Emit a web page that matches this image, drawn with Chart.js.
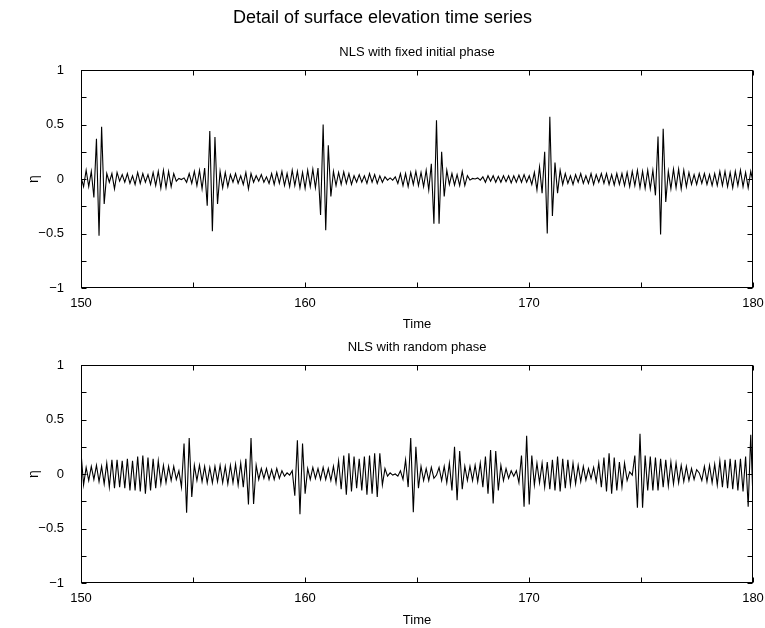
<!DOCTYPE html>
<html><head><meta charset="utf-8">
<script src="https://cdn.jsdelivr.net/npm/chart.js@4.4.1/dist/chart.umd.min.js"></script>
<style>
html,body{margin:0;padding:0;background:#fff;}
#wrap{position:relative;width:765px;height:628px;overflow:hidden;}
canvas{position:absolute;left:0;}
</style></head><body>
<div id="wrap">
<canvas id="c1" width="765" height="334" style="top:0px"></canvas>
<canvas id="c2" width="765" height="294" style="top:334px"></canvas>
</div>
<script>
// ---- data (turning points of the sampled surface elevation) ----
const timeStart = 150;
const timeStep = 0.115;
const fixedPhaseEta = [
0.02,-0.07,0.08,-0.07,0.07,-0.17,0.37,-0.52,0.48,-0.23,
0.05,-0.03,0.05,-0.09,0.06,-0.02,0.04,-0.03,0.05,-0.04,
0.03,-0.05,0.06,-0.04,0.05,-0.03,0.04,-0.05,0.06,-0.06,
0.07,-0.085,0.08,-0.08,0.07,-0.07,0.05,-0.02,0.005,-0.005,
0.01,-0.03,0.05,-0.04,0.07,-0.06,0.08,-0.09,0.1,-0.245,
0.44,-0.48,0.385,-0.23,0.07,-0.08,0.06,-0.07,0.04,-0.03,
0.05,-0.04,0.03,-0.05,0.06,-0.09,0.05,-0.03,0.03,-0.02,
0.04,-0.03,0.02,-0.04,0.05,-0.05,0.06,-0.04,0.07,-0.06,
0.05,-0.07,0.08,-0.06,0.07,-0.08,0.06,-0.085,0.08,-0.07,
0.09,-0.08,0.1,-0.33,0.5,-0.47,0.31,-0.16,0.07,-0.06,
0.06,-0.05,0.065,-0.04,0.05,-0.05,0.03,-0.03,0.04,-0.03,
0.03,-0.04,0.05,-0.03,0.04,-0.04,0.03,-0.03,0.02,-0.01,
0.01,-0.01,0.02,-0.04,0.05,-0.06,0.05,-0.07,0.06,-0.05,
0.07,-0.06,0.06,-0.07,0.08,-0.1,0.14,-0.41,0.54,-0.41,
0.25,-0.16,0.08,-0.05,0.05,-0.055,0.04,-0.06,0.07,-0.06,
0.03,-0.01,0.005,0,0.01,-0.01,0.02,-0.03,0.03,-0.02,
0.03,-0.03,0.025,-0.03,0.03,-0.025,0.03,-0.035,0.03,-0.03,
0.035,-0.03,0.04,-0.03,0.03,-0.05,0.06,-0.1,0.11,-0.13,
0.25,-0.5,0.57,-0.34,0.15,-0.13,0.08,-0.05,0.05,-0.04,
0.03,-0.05,0.04,-0.03,0.05,-0.04,0.03,-0.04,0.05,-0.05,
0.04,-0.03,0.05,-0.04,0.05,-0.05,0.04,-0.055,0.05,-0.05,
0.05,-0.06,0.06,-0.07,0.07,-0.06,0.08,-0.08,0.07,-0.085,
0.08,-0.09,0.08,-0.15,0.39,-0.51,0.46,-0.21,0.07,-0.09,
0.09,-0.08,0.09,-0.09,0.08,-0.07,0.06,-0.05,0.04,-0.05,
0.05,-0.04,0.05,-0.05,0.04,-0.06,0.05,-0.06,0.07,-0.06,
0.07,-0.07,0.06,-0.08,0.07,-0.06,0.08,-0.07,0.06,-0.08,
0.07,-0.04
];
const randomPhaseEta = [
0.2,-0.1,0.06,-0.06,0.07,-0.05,0.08,-0.07,0.07,-0.09,
0.1,-0.12,0.13,-0.13,0.13,-0.12,0.12,-0.13,0.14,-0.15,
0.12,-0.15,0.16,-0.16,0.17,-0.18,0.15,-0.15,0.14,-0.13,
0.12,-0.09,0.08,-0.08,0.07,-0.06,0.07,-0.05,0.03,-0.12,
0.28,-0.355,0.33,-0.21,0.08,-0.06,0.08,-0.07,0.07,-0.08,
0.06,-0.08,0.07,-0.07,0.08,-0.08,0.07,-0.09,0.08,-0.08,
0.09,-0.1,0.1,-0.12,0.14,-0.28,0.33,-0.275,0.08,-0.05,
0.05,-0.04,0.05,-0.05,0.04,-0.05,0.05,-0.04,0.03,-0.02,
0.01,-0.01,0.03,-0.2,0.31,-0.37,0.28,-0.18,0.05,-0.05,
0.06,-0.04,0.05,-0.05,0.06,-0.05,0.05,-0.06,0.07,-0.08,
0.12,-0.14,0.17,-0.19,0.19,-0.16,0.16,-0.13,0.14,-0.15,
0.16,-0.19,0.17,-0.18,0.19,-0.21,0.19,-0.1,0.05,-0.02,
0.01,-0.01,0,-0.02,0.03,-0.05,0.13,-0.12,0.33,-0.35,
0.25,-0.13,0.07,-0.06,0.05,-0.06,0.06,-0.04,-0.01,0.06,
-0.06,0.07,-0.08,0.1,-0.15,0.25,-0.24,0.21,-0.14,0.07,
-0.06,0.07,-0.06,0.08,-0.07,0.1,-0.12,0.16,-0.18,0.22,
-0.27,0.21,-0.15,0.08,-0.06,0.05,-0.04,0.03,-0.02,0.03,
-0.08,0.17,-0.3,0.35,-0.28,0.17,-0.1,0.1,-0.08,0.1,
-0.12,0.11,-0.14,0.13,-0.15,0.16,-0.16,0.14,-0.13,0.13,
-0.1,0.1,-0.09,0.08,-0.07,0.07,-0.055,0.05,-0.04,0.06,
-0.07,0.1,-0.12,0.15,-0.16,0.19,-0.18,0.15,-0.15,0.11,
-0.12,0.1,-0.06,0.02,-0.01,0.17,-0.31,0.37,-0.31,0.17,
-0.15,0.16,-0.15,0.15,-0.15,0.14,-0.12,0.13,-0.11,0.11,
-0.09,0.1,-0.08,0.08,-0.07,0.07,-0.06,0.05,-0.05,0.04,
0.01,-0.06,0.07,-0.07,0.08,-0.08,0.09,-0.1,0.12,-0.12,
0.13,-0.13,0.14,-0.14,0.13,-0.15,0.14,-0.16,0.16,-0.3,
0.36,-0.33
];
const xTickValues = [150, 160, 170, 180];
const xTickLabels = ['150', '160', '170', '180'];
const yTickValues = [-1, -0.5, 0, 0.5, 1];
const yTickLabels = ['\u22121', '\u22120.5', '0', '0.5', '1'];
const mainTitle = 'Detail of surface elevation time series';
const panelTitles = ['NLS with fixed initial phase', 'NLS with random phase'];
const xAxisTitle = 'Time';
const yAxisTitle = '\u03B7';

// ---- rendering ----
const FONT = "'Liberation Sans', Arial, Helvetica, sans-serif";
Chart.defaults.font.family = FONT;
Chart.defaults.color = '#000';

function toPoints(vals) {
  return vals.map((v, i) => ({ x: timeStart + i * timeStep, y: v }));
}

const frameTicks = {
  id: 'frameTicks',
  afterDraw(chart) {
    const { ctx, chartArea: a, scales } = chart;
    const sx = scales.x, sy = scales.y;
    ctx.save();
    ctx.strokeStyle = '#000';
    ctx.lineWidth = 1;
    const L = Math.round(a.left) + 0.5, R = Math.round(a.right) - 0.5;
    const T = Math.round(a.top) + 0.5, B = Math.round(a.bottom) - 0.5;
    ctx.strokeRect(L, T, R - L, B - T);
    ctx.beginPath();
    for (let v = sx.min; v <= sx.max + 1e-9; v += 5) {
      const px = Math.round(sx.getPixelForValue(v)) + 0.5;
      ctx.moveTo(px, B); ctx.lineTo(px, B - 5);
      ctx.moveTo(px, T); ctx.lineTo(px, T + 5);
    }
    for (let v = sy.min; v <= sy.max + 1e-9; v += 0.25) {
      const py = Math.round(sy.getPixelForValue(v)) + 0.5;
      ctx.moveTo(L, py); ctx.lineTo(L + 5, py);
      ctx.moveTo(R, py); ctx.lineTo(R - 5, py);
    }
    ctx.stroke();
    ctx.restore();
  }
};

function makeChart(id, values, cfg) {
  const plugins = { legend: { display: false }, tooltip: { enabled: false } };
  Object.assign(plugins, cfg.plugins);
  return new Chart(document.getElementById(id), {
    type: 'line',
    data: {
      datasets: [{
        data: toPoints(values),
        borderColor: '#000',
        borderWidth: 1.1,
        pointRadius: 0,
        tension: 0,
        fill: false
      }]
    },
    options: {
      responsive: false,
      animation: false,
      events: [],
      layout: { padding: 0 },
      plugins,
      scales: {
        x: {
          type: 'linear', min: 150, max: 180,
          grid: { display: false, drawTicks: false },
          border: { display: false },
          ticks: {
            stepSize: 10, padding: 8, maxRotation: 0, autoSkip: false,
            font: { size: 13 }, color: '#000',
            callback: (v) => { const k = xTickValues.indexOf(v); return k >= 0 ? xTickLabels[k] : ''; }
          },
          title: { display: true, text: xAxisTitle, font: { size: 13, lineHeight: '16px' }, padding: { top: 0, bottom: cfg.xTitlePad } },
          afterFit(s) { s.height = cfg.xAxisHeight; s.paddingLeft = 0; s.paddingRight = 12; }
        },
        y: {
          type: 'linear', min: -1, max: 1,
          grid: { display: false, drawTicks: false },
          border: { display: false },
          ticks: {
            stepSize: 0.5, padding: 17,
            font: { size: 13 }, color: '#000',
            callback: (v) => { const k = yTickValues.indexOf(v); return k >= 0 ? yTickLabels[k] : ''; }
          },
          title: { display: true, text: yAxisTitle, font: { size: 14, lineHeight: '16px' }, padding: { top: 26, bottom: 0 } },
          afterFit(s) { s.width = 81; s.paddingTop = 0; s.paddingBottom = 0; }
        }
      }
    },
    plugins: [frameTicks]
  });
}

makeChart('c1', fixedPhaseEta, {
  xAxisHeight: 46, xTitlePad: 2,
  plugins: {
    title: { display: true, text: mainTitle, font: { size: 18, weight: 'normal', lineHeight: '24px' }, padding: { top: 6, bottom: 0 }, color: '#000' },
    subtitle: { display: true, text: panelTitles[0], fullSize: false, font: { size: 13, lineHeight: '18px' }, padding: { top: 13, bottom: 9 }, color: '#000' }
  }
});
makeChart('c2', randomPhaseEta, {
  xAxisHeight: 45, xTitlePad: 0,
  plugins: {
    title: { display: true, text: panelTitles[1], fullSize: false, font: { size: 13, weight: 'normal', lineHeight: '18px' }, padding: { top: 4, bottom: 9 }, color: '#000' }
  }
});
</script>
</body></html>
